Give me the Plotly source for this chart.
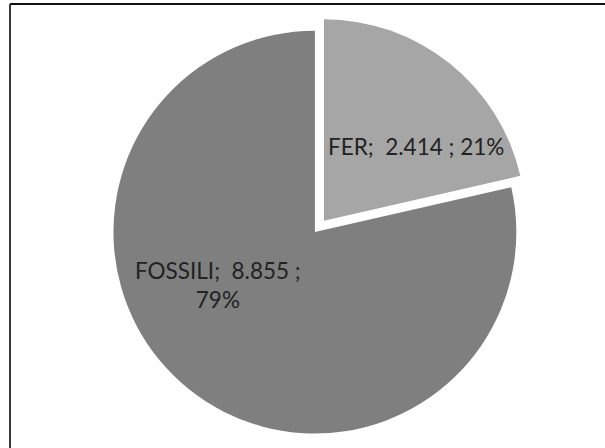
import plotly.graph_objects as go

# Energy sources: renewables (FER) vs fossil fuels
labels = ["FER", "FOSSILI"]
values = [2414, 8855]
percents = [21, 79]
colors = ["#a6a6a6", "#7f7f7f"]


def it_num(v):
    # Italian thousands separator
    return f"{v:,}".replace(",", ".")


W, H = 605, 448

fig = go.Figure(
    go.Pie(
        labels=labels,
        values=values,
        sort=False,
        direction="clockwise",
        rotation=0,
        pull=[0.072, 0],
        marker=dict(colors=colors, line=dict(width=0)),
        textinfo="none",
        hoverinfo="label+value+percent",
        domain=dict(x=[0.163, 0.878], y=[0.0, 0.964]),
        showlegend=False,
    )
)

NB = "\u00a0"
fer_text = f"{labels[0]};{NB}{NB}{it_num(values[0])}{NB};{NB}{percents[0]}%"
fos_text = f"{labels[1]};{NB}{NB}{it_num(values[1])}{NB};<br>{percents[1]}%"

font = dict(family="Lato, 'Open Sans', sans-serif", size=22.5, color="#222222")

fig.add_annotation(
    x=415.5 / W, y=1 - 146 / H, xref="paper", yref="paper",
    text=fer_text, showarrow=False, font=font,
    xanchor="center", yanchor="middle",
)
fig.add_annotation(
    x=218 / W, y=1 - 285 / H, xref="paper", yref="paper",
    text=fos_text, showarrow=False, font=font,
    xanchor="center", yanchor="middle", align="center",
)

# Frame lines along the top and left edges
fig.add_shape(type="line", xref="paper", yref="paper",
              x0=10 / W, x1=1, y0=1 - 4 / H, y1=1 - 4 / H,
              line=dict(color="#111111", width=2))
fig.add_shape(type="line", xref="paper", yref="paper",
              x0=10 / W, x1=10 / W, y0=1 - 4 / H, y1=0,
              line=dict(color="#3a3a3a", width=2))

fig.update_layout(
    width=W, height=H,
    margin=dict(l=0, r=0, t=0, b=0),
    paper_bgcolor="white",
    plot_bgcolor="white",
)

fig.write_html("out.html")
